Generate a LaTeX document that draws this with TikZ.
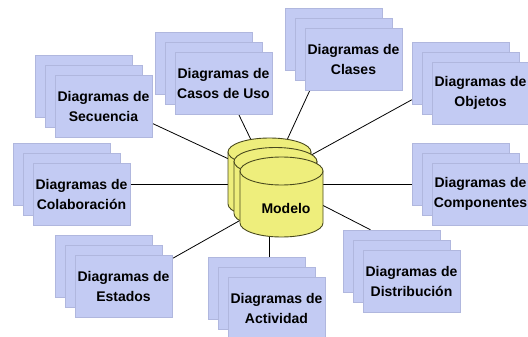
\documentclass[tikz,border=0pt]{standalone}
\usepackage{fontspec}
\setmainfont{Liberation Sans}
\usetikzlibrary{backgrounds}

\definecolor{hojaazul}{HTML}{C3CBF3}
\definecolor{hojaborde}{HTML}{B0B7DE}
\definecolor{amarillo}{HTML}{EEEE7C}
\definecolor{bordeoliva}{HTML}{4A4A1E}

\begin{document}
\begin{tikzpicture}[x=1pt, y=-1pt,
    hoja/.style={rectangle, fill=hojaazul, draw=hojaborde, line width=0.5pt,
      minimum width=97pt, minimum height=62pt, inner sep=0pt, align=center,
      font=\fontsize{14}{20}\selectfont\bfseries},
    disco/.style={draw=bordeoliva, fill=amarillo, line width=0.9pt},
    enlace/.style={line width=0.8pt}]
  \useasboundingbox (0,0) rectangle (528,337);

  % Hojas: atras, medio y frente
  \foreach \n/\x/\y/\t in {sec/55/75/{Diagramas de\\Secuencia},
      cas/175/52/{Diagramas de\\Casos de Uso},
      cla/305/28/{Diagramas de\\Clases},
      obj/432/62/{Diagramas de\\Objetos},
      col/33/163/{Diagramas de\\Colaboración},
      com/432/163/{Diagramas de\\Componentes},
      est/75/255/{Diagramas de\\Estados},
      act/228/277/{Diagramas de\\Actividad},
      dis/363/250/{Diagramas de\\Distribución}}{
    \node[hoja] (\n3) at (\x+28.5, \y+11) {};
    \node[hoja] (\n2) at (\x+38.5, \y+21) {};
    \node[hoja] (\n) at (\x+48.5, \y+31) {\t};
  }

  % Modelo: tres discos
  \coordinate (modC) at (269.5, 178);
  \coordinate (modB) at (275.5, 187.5);
  \coordinate (mod) at (281.5, 197);
  \foreach \c in {modC, modB, mod}{
    \begin{scope}[shift={(\c)}]
      \filldraw[disco] (-41.5, -26) -- (-41.5, 26)
        arc[start angle=180, end angle=0, x radius=41.5, y radius=14]
        -- (41.5, -26) -- cycle;
      \filldraw[disco] (0, -26) ellipse [x radius=41.5, y radius=14];
    \end{scope}
  }
  \node[font=\fontsize{14}{20}\selectfont\bfseries] (modelo) at (286, 208) {Modelo};

  \begin{scope}[on background layer]
    \draw[enlace] (sec2) -- (modC);
    \draw[enlace] (cas) -- (modC);
    \draw[enlace] (cla3) -- (modC);
    \draw[enlace] (obj3) -- (modC);
    \draw[enlace] (col2) -- (col2 -| modC);
    \draw[enlace] (com2) -- (com2 -| modC);
    \draw[enlace] (est) -- (mod);
    \draw[enlace] (modC) -- (modC |- act3);
    \draw[enlace] (modC) -- (dis3.124);
  \end{scope}
\end{tikzpicture}
\end{document}
